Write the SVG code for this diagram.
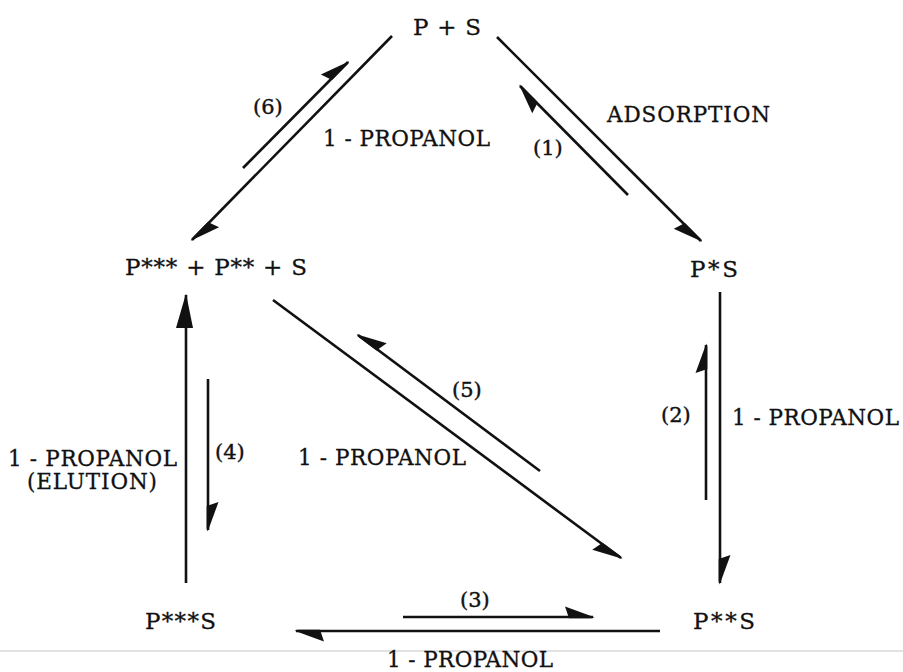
<svg xmlns="http://www.w3.org/2000/svg" width="903" height="672" viewBox="0 0 903 672">
  <defs>
    <style>
      .bg { fill: #ffffff; }
      .node { font-family: "DejaVu Serif", "Liberation Serif", serif; font-size: 23px; fill: #111; stroke: #111; stroke-width: 0.3; }
      .lbl { font-family: "DejaVu Serif", "Liberation Serif", serif; font-size: 21.5px; fill: #111; stroke: #111; stroke-width: 0.3; }
      .num { font-family: "DejaVu Serif", "Liberation Serif", serif; font-size: 21px; fill: #111; stroke: #111; stroke-width: 0.4; }
      .edge { fill: none; stroke: #111; stroke-width: 2.6; stroke-linecap: butt; }
      .head { fill: #111; stroke: none; }
      .scan { stroke: #e2e2e2; stroke-width: 2; }
    </style>
    <marker id="hl" markerUnits="userSpaceOnUse" viewBox="-32 -14 36 28" markerWidth="36" markerHeight="28" refX="0" refY="0" orient="auto" overflow="visible">
      <path class="head" d="M1.5,0.3 L-28,-10.5 L-24,1.3 L-2,1.3 Z"/>
    </marker>
    <marker id="hr" markerUnits="userSpaceOnUse" viewBox="-32 -14 36 28" markerWidth="36" markerHeight="28" refX="0" refY="0" orient="auto" overflow="visible">
      <path class="head" d="M1.5,-0.3 L-28,10.5 L-24,-1.3 L-2,-1.3 Z"/>
    </marker>
    <marker id="full" markerUnits="userSpaceOnUse" viewBox="-36 -14 40 28" markerWidth="40" markerHeight="28" refX="0" refY="0" orient="auto" overflow="visible">
      <path class="head" d="M1.5,0 L-33,-10 L-33,7 Z"/>
    </marker>
  </defs>

  <rect class="bg" x="0" y="0" width="903" height="672"/>
  <line class="scan" x1="0" y1="651" x2="903" y2="651"/>

  <g id="connectors">
    <path class="edge" d="M392,36 L192,240" marker-end="url(#hl)"/>
    <path class="edge" d="M243,168 L348,62" marker-end="url(#hl)"/>
    <path class="edge" d="M497,37 L701,241" marker-end="url(#hr)"/>
    <path class="edge" d="M628,195 L520,86" marker-end="url(#hl)"/>
    <path class="edge" d="M720,292 L720,583" marker-end="url(#hl)"/>
    <path class="edge" d="M706,500 L706,345" marker-end="url(#hl)"/>
    <path class="edge" d="M186,583 L186,295" marker-end="url(#full)"/>
    <path class="edge" d="M208,379 L208,530" marker-end="url(#hl)"/>
    <path class="edge" d="M273,300 L621,558" marker-end="url(#hr)"/>
    <path class="edge" d="M540,471 L358,335" marker-end="url(#hr)"/>
    <path class="edge" d="M403,617 L593,617" marker-end="url(#hl)"/>
    <path class="edge" d="M660,631 L296,631" marker-end="url(#hl)"/>
  </g>

  <g id="edge-labels">
    <text class="lbl" x="607" y="122" textLength="163">ADSORPTION</text>
    <text class="num" x="253" y="114">(6)</text>
    <text class="lbl" x="323" y="146" textLength="167">1 - PROPANOL</text>
    <text class="num" x="533" y="155">(1)</text>
    <text class="num" x="661" y="422">(2)</text>
    <text class="lbl" x="732" y="425" textLength="167">1 - PROPANOL</text>
    <text class="num" x="452" y="397">(5)</text>
    <text class="lbl" x="298" y="465" textLength="168">1 - PROPANOL</text>
    <text class="lbl" x="8" y="466" textLength="169">1 - PROPANOL</text>
    <text class="lbl" x="27" y="489" textLength="130">(ELUTION)</text>
    <text class="num" x="215" y="459">(4)</text>
    <text class="num" x="460" y="607">(3)</text>
    <text class="lbl" x="387" y="667" textLength="166">1 - PROPANOL</text>
  </g>

  <g id="node-p-s">
    <text class="node" x="413" y="35" textLength="68">P + S</text>
  </g>
  <g id="node-p3-p2-s">
    <text class="node" x="125" y="275" textLength="182">P*** + P** + S</text>
  </g>
  <g id="node-ps">
    <text class="node" x="690" y="277" textLength="48">P*S</text>
  </g>
  <g id="node-p3s">
    <text class="node" x="145" y="629" textLength="71">P***S</text>
  </g>
  <g id="node-p2s">
    <text class="node" x="693" y="629" textLength="62">P**S</text>
  </g>
</svg>
